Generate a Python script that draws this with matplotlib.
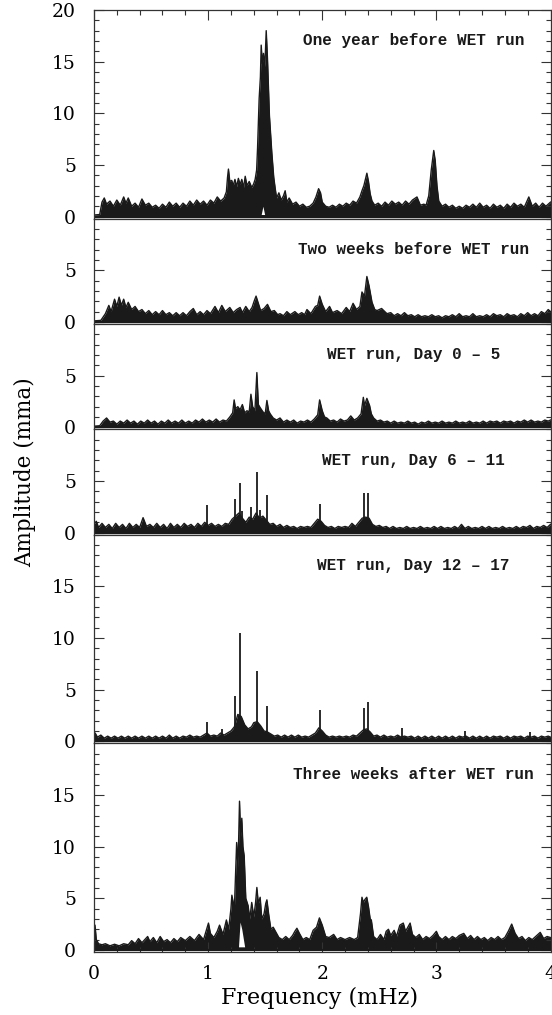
import numpy as np
import matplotlib
matplotlib.use('Agg')
import matplotlib.pyplot as plt
from matplotlib.ticker import MultipleLocator

# upper envelope of each amplitude spectrum, (frequency mHz, amplitude mma)
env_year_before = [
    (0.00, 0.15), (0.05, 0.2), (0.07, 1.4), (0.09, 1.8), (0.11, 1.2), (0.14, 1.5), (0.17, 1.0),
    (0.20, 1.6), (0.23, 1.1), (0.26, 1.9), (0.28, 1.3), (0.30, 1.8), (0.33, 1.0), (0.36, 1.3),
    (0.39, 0.9), (0.42, 1.7), (0.45, 1.1), (0.48, 1.3), (0.51, 0.9), (0.54, 1.1), (0.57, 0.8),
    (0.60, 1.2), (0.63, 0.9), (0.66, 1.4), (0.69, 1.0), (0.72, 1.3), (0.75, 0.9), (0.78, 1.3),
    (0.81, 1.0), (0.84, 1.5), (0.87, 1.1), (0.90, 1.6), (0.93, 1.2), (0.96, 1.5), (0.99, 1.1),
    (1.02, 1.6), (1.05, 1.3), (1.08, 1.9), (1.11, 1.5), (1.14, 1.8), (1.16, 2.4), (1.17, 3.8),
    (1.178, 4.6), (1.19, 3.4), (1.207, 3.5), (1.22, 3.0), (1.235, 3.6), (1.25, 2.9), (1.265, 3.7),
    (1.28, 3.1), (1.295, 3.6), (1.31, 2.8), (1.325, 3.9), (1.34, 3.0), (1.36, 3.4), (1.383, 2.8),
    (1.40, 3.2), (1.412, 3.6), (1.425, 4.5), (1.433, 6.6), (1.447, 11.4), (1.458, 13.5),
    (1.465, 16.6), (1.475, 14.8), (1.485, 15.8), (1.497, 14.5), (1.509, 18.0), (1.52, 15.3),
    (1.537, 9.8), (1.558, 6.2), (1.575, 3.8), (1.588, 2.7), (1.60, 1.8), (1.62, 2.3), (1.64, 1.6),
    (1.66, 2.0), (1.675, 2.5), (1.69, 1.4), (1.71, 1.8), (1.74, 1.2), (1.77, 1.4), (1.80, 1.0),
    (1.83, 1.2), (1.86, 0.9), (1.89, 1.0), (1.92, 1.3), (1.945, 1.9), (1.968, 2.7), (1.985, 2.3),
    (2.00, 1.4), (2.03, 1.0), (2.06, 0.9), (2.09, 1.1), (2.12, 0.9), (2.15, 1.2), (2.18, 1.0),
    (2.21, 1.3), (2.24, 1.1), (2.27, 1.5), (2.30, 1.3), (2.33, 1.9), (2.348, 2.5), (2.365, 3.0),
    (2.391, 4.2), (2.405, 3.4), (2.42, 2.2), (2.436, 1.5), (2.46, 1.1), (2.49, 1.3), (2.52, 1.0),
    (2.55, 1.4), (2.58, 1.1), (2.61, 1.5), (2.64, 1.2), (2.67, 1.4), (2.70, 1.1), (2.73, 1.5),
    (2.76, 1.2), (2.79, 1.6), (2.83, 1.9), (2.86, 1.1), (2.89, 1.2), (2.91, 1.1), (2.933, 2.0),
    (2.955, 4.5), (2.977, 6.4), (2.99, 5.4), (3.005, 3.0), (3.021, 1.5), (3.05, 1.0), (3.08, 1.2),
    (3.11, 0.9), (3.14, 1.1), (3.17, 0.8), (3.20, 1.0), (3.23, 0.8), (3.26, 1.1), (3.29, 0.9),
    (3.32, 1.2), (3.35, 0.9), (3.38, 1.3), (3.41, 0.9), (3.44, 1.1), (3.47, 0.8), (3.50, 1.2),
    (3.53, 0.9), (3.56, 1.1), (3.59, 0.8), (3.62, 1.2), (3.65, 0.9), (3.68, 1.3), (3.71, 1.0),
    (3.74, 1.2), (3.77, 0.9), (3.81, 1.9), (3.84, 1.0), (3.87, 1.3), (3.90, 0.9), (3.93, 1.3),
    (3.96, 1.0), (4.00, 1.4),
]

env_two_weeks = [
    (0.00, 0.1), (0.06, 0.15), (0.10, 0.8), (0.13, 1.6), (0.15, 1.0), (0.18, 2.2), (0.20, 1.5),
    (0.22, 2.4), (0.24, 1.6), (0.26, 2.2), (0.28, 1.4), (0.30, 1.9), (0.33, 1.2), (0.36, 1.5),
    (0.39, 1.0), (0.42, 1.2), (0.45, 0.8), (0.48, 1.1), (0.51, 0.7), (0.54, 1.0), (0.57, 0.7),
    (0.60, 1.1), (0.63, 0.7), (0.66, 0.9), (0.69, 0.6), (0.72, 0.9), (0.75, 0.6), (0.78, 0.9),
    (0.81, 0.6), (0.84, 1.0), (0.87, 1.3), (0.90, 0.7), (0.93, 1.0), (0.96, 0.7), (0.99, 1.1),
    (1.02, 0.8), (1.06, 1.5), (1.09, 0.9), (1.12, 1.6), (1.15, 1.0), (1.19, 1.4), (1.22, 0.9),
    (1.25, 1.2), (1.28, 1.4), (1.30, 0.9), (1.33, 1.5), (1.36, 1.0), (1.385, 1.4), (1.403, 2.0),
    (1.42, 2.5), (1.44, 1.8), (1.46, 1.1), (1.49, 1.3), (1.52, 1.7), (1.55, 1.0), (1.58, 1.1),
    (1.61, 0.7), (1.63, 0.8), (1.66, 0.6), (1.69, 1.0), (1.72, 0.7), (1.76, 1.0), (1.79, 0.7),
    (1.82, 0.9), (1.845, 0.7), (1.866, 1.2), (1.90, 0.8), (1.94, 1.5), (1.96, 1.6), (1.977, 2.5),
    (2.00, 1.7), (2.03, 1.0), (2.064, 1.5), (2.09, 0.9), (2.13, 1.1), (2.17, 0.8), (2.21, 1.4),
    (2.24, 1.0), (2.27, 1.8), (2.30, 1.2), (2.33, 1.5), (2.348, 2.9), (2.37, 2.5), (2.391, 4.4),
    (2.41, 3.5), (2.436, 1.9), (2.46, 1.2), (2.48, 1.1), (2.52, 1.3), (2.567, 0.8), (2.60, 0.9),
    (2.63, 0.6), (2.66, 0.8), (2.69, 0.6), (2.72, 0.9), (2.75, 0.6), (2.78, 0.7), (2.81, 0.5),
    (2.84, 0.7), (2.87, 0.5), (2.90, 0.6), (2.93, 0.5), (2.96, 0.7), (2.99, 0.5), (3.02, 0.6),
    (3.05, 0.4), (3.08, 0.6), (3.11, 0.5), (3.14, 0.7), (3.17, 0.5), (3.20, 0.8), (3.23, 0.5),
    (3.26, 0.6), (3.29, 0.5), (3.32, 0.8), (3.35, 0.5), (3.38, 0.6), (3.41, 0.5), (3.44, 0.7),
    (3.47, 0.5), (3.50, 0.8), (3.53, 0.6), (3.56, 0.7), (3.59, 0.5), (3.62, 0.8), (3.65, 0.6),
    (3.68, 0.7), (3.71, 0.5), (3.74, 0.8), (3.77, 0.6), (3.80, 0.9), (3.83, 0.6), (3.86, 0.8),
    (3.89, 0.6), (3.92, 1.0), (3.95, 0.8), (3.98, 1.2), (4.00, 1.0),
]

env_day0_5 = [
    (0.00, 0.1), (0.05, 0.15), (0.08, 0.6), (0.11, 0.9), (0.14, 0.5), (0.17, 0.6), (0.20, 0.3),
    (0.23, 0.6), (0.26, 0.4), (0.29, 0.7), (0.32, 0.4), (0.35, 0.6), (0.38, 0.3), (0.41, 0.6),
    (0.44, 0.4), (0.47, 0.7), (0.50, 0.4), (0.53, 0.6), (0.56, 0.3), (0.59, 0.6), (0.62, 0.4),
    (0.65, 0.7), (0.68, 0.4), (0.71, 0.6), (0.74, 0.4), (0.77, 0.7), (0.80, 0.4), (0.83, 0.6),
    (0.86, 0.4), (0.89, 0.7), (0.92, 0.5), (0.95, 0.8), (0.98, 0.5), (1.01, 0.7), (1.04, 0.5),
    (1.07, 0.8), (1.10, 0.5), (1.13, 0.7), (1.16, 0.6), (1.19, 1.0), (1.215, 1.4), (1.228, 2.65),
    (1.24, 1.8), (1.26, 2.0), (1.28, 1.7), (1.30, 2.2), (1.32, 1.4), (1.34, 1.6), (1.36, 1.5),
    (1.375, 3.2), (1.39, 2.0), (1.41, 1.6), (1.427, 5.3), (1.44, 2.2), (1.456, 1.9), (1.48, 1.5),
    (1.50, 1.3), (1.515, 2.6), (1.53, 1.6), (1.544, 1.3), (1.57, 0.9), (1.60, 0.7), (1.63, 0.9),
    (1.66, 0.5), (1.69, 0.7), (1.72, 0.5), (1.75, 0.7), (1.78, 0.4), (1.81, 0.6), (1.84, 0.5),
    (1.87, 0.7), (1.90, 0.5), (1.93, 0.8), (1.96, 1.2), (1.977, 2.65), (2.00, 1.6), (2.02, 1.0),
    (2.04, 0.9), (2.07, 0.6), (2.10, 0.7), (2.13, 0.5), (2.16, 0.8), (2.19, 0.6), (2.22, 0.7),
    (2.25, 1.1), (2.28, 0.7), (2.31, 0.9), (2.34, 1.3), (2.36, 2.9), (2.37, 2.1), (2.391, 2.8),
    (2.415, 2.1), (2.43, 1.3), (2.45, 0.9), (2.48, 0.6), (2.51, 0.7), (2.54, 0.5), (2.57, 0.6),
    (2.60, 0.4), (2.63, 0.6), (2.66, 0.4), (2.69, 0.5), (2.72, 0.4), (2.75, 0.6), (2.78, 0.4),
    (2.81, 0.5), (2.84, 0.3), (2.87, 0.5), (2.90, 0.4), (2.93, 0.6), (2.96, 0.4), (2.99, 0.5),
    (3.02, 0.4), (3.05, 0.6), (3.08, 0.4), (3.11, 0.5), (3.14, 0.4), (3.17, 0.6), (3.20, 0.4),
    (3.23, 0.5), (3.26, 0.4), (3.29, 0.6), (3.32, 0.4), (3.35, 0.5), (3.38, 0.4), (3.41, 0.6),
    (3.44, 0.4), (3.47, 0.6), (3.50, 0.5), (3.53, 0.6), (3.56, 0.4), (3.59, 0.6), (3.62, 0.5),
    (3.65, 0.6), (3.68, 0.4), (3.71, 0.6), (3.74, 0.5), (3.77, 0.7), (3.80, 0.5), (3.83, 0.7),
    (3.86, 0.5), (3.89, 0.6), (3.92, 0.5), (3.95, 0.7), (3.98, 0.6), (4.00, 0.7),
]

env_day6_11 = [
    (0.00, 0.8), (0.02, 1.1), (0.04, 0.5), (0.07, 0.9), (0.10, 0.5), (0.13, 0.8), (0.16, 0.4),
    (0.19, 0.9), (0.22, 0.5), (0.25, 0.8), (0.28, 0.4), (0.31, 0.9), (0.34, 0.5), (0.37, 0.8),
    (0.40, 0.5), (0.43, 1.45), (0.46, 0.6), (0.49, 0.8), (0.52, 0.5), (0.55, 0.9), (0.58, 0.5),
    (0.61, 0.8), (0.64, 0.4), (0.67, 0.9), (0.70, 0.5), (0.73, 0.8), (0.76, 0.5), (0.79, 0.9),
    (0.82, 0.6), (0.85, 0.8), (0.88, 0.5), (0.91, 0.9), (0.94, 0.6), (0.97, 1.0), (1.00, 0.7),
    (1.03, 0.9), (1.06, 0.6), (1.09, 0.8), (1.12, 0.6), (1.15, 0.9), (1.18, 0.8), (1.21, 1.3),
    (1.24, 1.6), (1.27, 1.9), (1.30, 1.4), (1.33, 1.0), (1.36, 1.5), (1.39, 1.3), (1.42, 1.9),
    (1.45, 1.4), (1.48, 1.6), (1.51, 1.2), (1.54, 0.8), (1.57, 0.9), (1.60, 0.6), (1.63, 0.8),
    (1.66, 0.5), (1.69, 0.7), (1.72, 0.5), (1.75, 0.6), (1.78, 0.4), (1.81, 0.6), (1.84, 0.5),
    (1.87, 0.6), (1.90, 0.5), (1.93, 0.9), (1.96, 1.3), (1.99, 1.1), (2.02, 0.7), (2.05, 0.5),
    (2.08, 0.6), (2.11, 0.4), (2.14, 0.6), (2.17, 0.5), (2.20, 0.6), (2.23, 0.5), (2.26, 0.9),
    (2.29, 0.6), (2.32, 1.0), (2.35, 1.4), (2.38, 1.5), (2.41, 1.4), (2.44, 0.8), (2.47, 0.6),
    (2.50, 0.7), (2.53, 0.5), (2.56, 0.6), (2.59, 0.4), (2.62, 0.6), (2.65, 0.4), (2.68, 0.5),
    (2.71, 0.4), (2.74, 0.6), (2.77, 0.4), (2.80, 0.5), (2.83, 0.4), (2.86, 0.6), (2.89, 0.4),
    (2.92, 0.5), (2.95, 0.4), (2.98, 0.6), (3.01, 0.4), (3.04, 0.6), (3.07, 0.4), (3.10, 0.5),
    (3.13, 0.4), (3.16, 0.6), (3.19, 0.4), (3.22, 0.8), (3.25, 0.4), (3.28, 0.6), (3.31, 0.4),
    (3.34, 0.5), (3.37, 0.4), (3.40, 0.6), (3.43, 0.4), (3.46, 0.6), (3.49, 0.4), (3.52, 0.5),
    (3.55, 0.4), (3.58, 0.6), (3.61, 0.4), (3.64, 0.5), (3.67, 0.4), (3.70, 0.6), (3.73, 0.4),
    (3.76, 0.6), (3.79, 0.5), (3.82, 0.7), (3.85, 0.4), (3.88, 0.6), (3.91, 0.5), (3.94, 0.7),
    (3.97, 0.5), (4.00, 0.8),
]
spike_f_day6_11 = [0.988, 1.237, 1.275, 1.295, 1.374, 1.427, 1.456, 1.515, 1.977, 2.365, 2.400]
spike_a_day6_11 = [2.7, 3.25, 4.8, 2.1, 2.5, 5.9, 2.2, 3.6, 2.75, 3.8, 3.8]

env_day12_17 = [
    (0.00, 0.5), (0.01, 0.8), (0.03, 0.4), (0.06, 0.6), (0.09, 0.3), (0.12, 0.5), (0.15, 0.3),
    (0.18, 0.5), (0.21, 0.3), (0.24, 0.5), (0.27, 0.3), (0.30, 0.5), (0.33, 0.3), (0.36, 0.5),
    (0.39, 0.3), (0.42, 0.5), (0.45, 0.3), (0.48, 0.5), (0.51, 0.3), (0.54, 0.5), (0.57, 0.3),
    (0.60, 0.5), (0.63, 0.3), (0.66, 0.6), (0.69, 0.3), (0.72, 0.5), (0.75, 0.3), (0.78, 0.5),
    (0.81, 0.4), (0.84, 0.6), (0.87, 0.4), (0.90, 0.5), (0.93, 0.4), (0.96, 0.6), (0.99, 0.8),
    (1.02, 0.5), (1.05, 0.6), (1.08, 0.5), (1.11, 0.8), (1.14, 0.6), (1.17, 0.8), (1.20, 1.0),
    (1.23, 1.4), (1.26, 2.6), (1.29, 2.4), (1.32, 1.6), (1.35, 1.2), (1.38, 1.4), (1.40, 1.8),
    (1.43, 1.9), (1.46, 1.5), (1.49, 1.0), (1.52, 0.9), (1.55, 0.7), (1.58, 0.5), (1.61, 0.6),
    (1.64, 0.4), (1.67, 0.6), (1.70, 0.4), (1.73, 0.6), (1.76, 0.4), (1.79, 0.6), (1.82, 0.4),
    (1.85, 0.5), (1.88, 0.4), (1.91, 0.6), (1.94, 0.8), (1.97, 1.3), (2.00, 1.0), (2.03, 0.6),
    (2.06, 0.4), (2.09, 0.5), (2.12, 0.4), (2.15, 0.5), (2.18, 0.4), (2.21, 0.5), (2.24, 0.4),
    (2.27, 0.6), (2.30, 0.5), (2.33, 0.8), (2.36, 1.1), (2.39, 1.2), (2.42, 0.9), (2.45, 0.5),
    (2.48, 0.6), (2.51, 0.4), (2.54, 0.6), (2.57, 0.4), (2.60, 0.5), (2.63, 0.4), (2.66, 0.6),
    (2.69, 0.4), (2.72, 0.5), (2.75, 0.4), (2.78, 0.5), (2.81, 0.3), (2.84, 0.5), (2.87, 0.3),
    (2.90, 0.5), (2.93, 0.3), (2.96, 0.5), (2.99, 0.3), (3.02, 0.5), (3.05, 0.3), (3.08, 0.5),
    (3.11, 0.3), (3.14, 0.5), (3.17, 0.3), (3.20, 0.5), (3.23, 0.4), (3.26, 0.5), (3.29, 0.3),
    (3.32, 0.5), (3.35, 0.3), (3.38, 0.5), (3.41, 0.3), (3.44, 0.5), (3.47, 0.3), (3.50, 0.5),
    (3.53, 0.4), (3.56, 0.5), (3.59, 0.3), (3.62, 0.5), (3.65, 0.3), (3.68, 0.5), (3.71, 0.4),
    (3.74, 0.5), (3.77, 0.3), (3.80, 0.5), (3.83, 0.4), (3.86, 0.5), (3.89, 0.3), (3.92, 0.5),
    (3.95, 0.4), (3.98, 0.5), (4.00, 0.4),
]
spike_f_day12_17 = [0.988, 1.12, 1.237, 1.275, 1.427, 1.515, 1.977, 2.365, 2.400, 2.700, 3.255, 3.820]
spike_a_day12_17 = [1.9, 1.2, 4.35, 10.5, 6.8, 3.45, 3.05, 3.2, 3.85, 1.3, 1.0, 0.9]

env_three_weeks = [
    (0.00, 1.8), (0.009, 2.4), (0.02, 1.0), (0.04, 0.6), (0.07, 0.5), (0.10, 0.6), (0.14, 0.4),
    (0.18, 0.55), (0.22, 0.4), (0.26, 0.6), (0.30, 0.5), (0.33, 0.9), (0.36, 0.6), (0.39, 1.1),
    (0.42, 0.7), (0.47, 1.3), (0.49, 0.8), (0.52, 1.2), (0.55, 0.7), (0.58, 1.3), (0.61, 0.8),
    (0.64, 1.0), (0.67, 0.7), (0.70, 1.1), (0.73, 0.8), (0.76, 1.2), (0.80, 0.9), (0.84, 1.3),
    (0.88, 0.9), (0.92, 1.5), (0.96, 1.0), (1.003, 2.6), (1.02, 1.6), (1.05, 1.2), (1.08, 1.8),
    (1.10, 2.4), (1.13, 1.5), (1.16, 2.9), (1.18, 2.0), (1.20, 4.0), (1.208, 5.3), (1.23, 4.0),
    (1.25, 10.4), (1.262, 8.0), (1.275, 14.4), (1.285, 11.0), (1.295, 12.75), (1.305, 10.0),
    (1.316, 9.1), (1.33, 5.0), (1.35, 4.3), (1.365, 3.0), (1.382, 4.6), (1.40, 3.2), (1.415, 4.5),
    (1.427, 6.05), (1.44, 4.5), (1.456, 5.1), (1.47, 3.0), (1.49, 3.5), (1.505, 4.5),
    (1.515, 4.85), (1.53, 3.5), (1.55, 2.0), (1.57, 2.2), (1.59, 1.8), (1.62, 1.2), (1.65, 1.0),
    (1.68, 1.3), (1.71, 1.0), (1.74, 1.4), (1.76, 1.8), (1.778, 2.1), (1.80, 1.6), (1.83, 1.0),
    (1.86, 1.2), (1.89, 1.0), (1.92, 1.9), (1.95, 2.2), (1.975, 3.1), (2.00, 2.4), (2.03, 1.3),
    (2.06, 1.2), (2.10, 1.5), (2.13, 1.0), (2.16, 1.2), (2.20, 1.0), (2.24, 1.2), (2.28, 1.0),
    (2.31, 1.2), (2.335, 3.5), (2.348, 5.1), (2.36, 4.6), (2.375, 4.9), (2.39, 5.1), (2.405, 4.2),
    (2.42, 3.0), (2.43, 2.9), (2.45, 1.3), (2.48, 1.0), (2.51, 1.5), (2.54, 1.0), (2.56, 1.8),
    (2.58, 2.0), (2.60, 1.4), (2.63, 1.9), (2.65, 1.3), (2.68, 2.4), (2.71, 2.6), (2.73, 1.8),
    (2.75, 2.2), (2.77, 2.6), (2.79, 1.5), (2.82, 1.2), (2.85, 1.5), (2.88, 1.0), (2.91, 1.3),
    (2.94, 1.1), (2.97, 1.4), (3.00, 1.8), (3.02, 1.3), (3.05, 1.0), (3.08, 1.3), (3.11, 1.0),
    (3.14, 1.3), (3.17, 1.1), (3.20, 1.4), (3.24, 1.6), (3.27, 1.1), (3.30, 1.4), (3.33, 1.0),
    (3.36, 1.3), (3.39, 1.0), (3.42, 1.2), (3.45, 0.9), (3.48, 1.2), (3.51, 1.0), (3.54, 1.3),
    (3.57, 1.0), (3.60, 1.2), (3.63, 1.8), (3.66, 2.5), (3.69, 1.6), (3.72, 1.1), (3.75, 1.3),
    (3.78, 0.9), (3.81, 1.2), (3.84, 1.0), (3.87, 1.3), (3.91, 1.7), (3.94, 1.1), (3.97, 1.3),
    (4.00, 1.2),
]

# white gaps under the big peaks (frequency, lower, upper)
gap_year_before = [(1.465, 0.2, 0.2), (1.48, 0.2, 1.0), (1.495, 0.2, 0.2)]
gap_three_weeks = [(1.266, 0.3, 0.3), (1.28, 0.3, 2.7), (1.295, 0.3, 2.0), (1.32, 0.3, 0.3)]

titles = ['One year before WET run', 'Two weeks before WET run', 'WET run, Day 0 \u2013 5',
          'WET run, Day 6 \u2013 11', 'WET run, Day 12 \u2013 17', 'Three weeks after WET run']
y_tops = [20, 10, 10, 10, 20, 20]
y_labels = [[0, 5, 10, 15, 20], [0, 5], [0, 5], [0, 5], [0, 5, 10, 15], [0, 5, 10, 15]]
x_labels = [0, 1, 2, 3, 4]
envelopes = [env_year_before, env_two_weeks, env_day0_5, env_day6_11, env_day12_17, env_three_weeks]
spikes = [None, None, None, (spike_f_day6_11, spike_a_day6_11),
          (spike_f_day12_17, spike_a_day12_17), None]
gaps = [gap_year_before, None, None, None, None, gap_three_weeks]

ink = '#1a1a1a'
y_bottom = -0.2
tick_font = {'family': 'DejaVu Serif', 'size': 13.5}

fig = plt.figure(figsize=(5.52, 10.15), dpi=100)
gs = fig.add_gridspec(6, 1, height_ratios=[t - y_bottom for t in y_tops], hspace=0,
                      left=94 / 552, right=550.5 / 552, top=1 - 10 / 1015, bottom=1 - 952 / 1015)

for i in range(6):
    ax = fig.add_subplot(gs[i])
    f, a = np.array(envelopes[i]).T
    ax.fill_between(f, 0, a, color=ink, lw=0)
    ax.plot(f, a, color=ink, lw=1.0)
    ax.plot(f, np.zeros_like(f), color=ink, lw=1.6)
    if spikes[i] is not None:
        ax.vlines(spikes[i][0], 0, spikes[i][1], color=ink, lw=1.3)
    if gaps[i] is not None:
        gf, glo, ghi = np.array(gaps[i]).T
        ax.fill_between(gf, glo, ghi, color='white', lw=0)

    ax.set_xlim(0, 4)
    ax.set_ylim(y_bottom, y_tops[i])
    ax.set_yticks(y_labels[i])
    ax.set_yticklabels([str(v) for v in y_labels[i]], fontdict=tick_font)
    ax.yaxis.set_minor_locator(MultipleLocator(1))
    ax.set_xticks(x_labels)
    ax.xaxis.set_minor_locator(MultipleLocator(0.2))
    ax.tick_params(which='both', direction='in', right=True, top=(i == 0), bottom=(i == 5),
                   labelbottom=(i == 5), color='#333333', width=0.8)
    ax.tick_params(which='major', length=7)
    ax.tick_params(which='minor', length=3.5)
    ax.tick_params(axis='y', pad=13)
    ax.tick_params(axis='x', pad=9)
    for s in ax.spines.values():
        s.set_linewidth(0.9)
        s.set_color('#333333')
    if i == 5:
        ax.set_xticklabels([str(v) for v in x_labels], fontdict=tick_font)
    ax.text(2.8, y_tops[i] - 3, titles[i], ha='center', va='center',
            family='Liberation Mono', fontsize=11.5, fontweight='bold', color='#1a1a1a')

fig.text(25 / 552, 1 - 472 / 1015, 'Amplitude (mma)', rotation=90, ha='center', va='center',
         family='DejaVu Serif', fontsize=15.5)
fig.text(320 / 552, 1 - 998 / 1015, 'Frequency (mHz)', ha='center', va='center',
         family='DejaVu Serif', fontsize=16)

fig.savefig('out.png', dpi=100)
